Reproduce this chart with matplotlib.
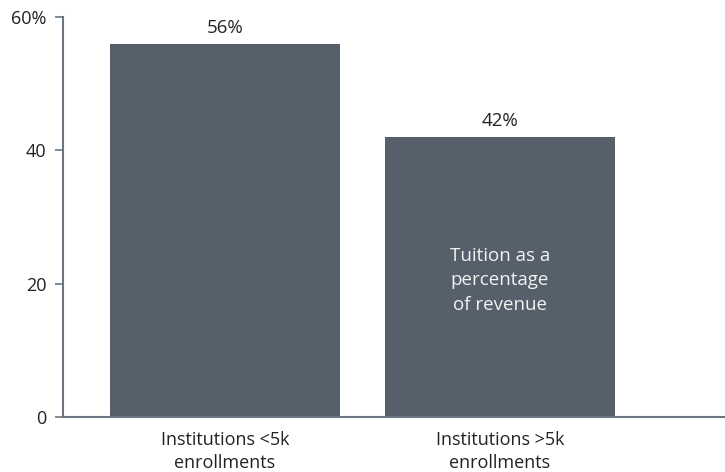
import matplotlib.pyplot as plt

categories = ["Institutions <5k\nenrollments", "Institutions >5k\nenrollments"]
values = [56, 42]
yticks = [0, 20, 40, 60]
ytick_labels = ["0", "20", "40", "60%"]

plt.rcParams["font.family"] = ["Open Sans", "DejaVu Sans"]

bar_color = "#56606a"
axis_color = "#6b7580"
text_color = "#222222"

fig = plt.figure(figsize=(7.25, 4.72), dpi=100)
ax = fig.add_axes([63/725, 55/472, 1 - 63/725, 400/472])

x = range(len(values))
ax.bar(x, values, width=0.836, color=bar_color)

for i, v in enumerate(values):
    ax.annotate(str(v) + "%", (i, v), xytext=(0, 5), textcoords="offset points",
                ha="center", va="bottom", fontsize=13.5, color=text_color)

ax.text(1, 20.5, "Tuition as a\npercentage\nof revenue", ha="center", va="center",
        fontsize=13.5, color="#f2f2f2", linespacing=1.45)

ax.set_xlim(-0.589, 1.818)
ax.set_ylim(0, 60)
ax.set_xticks(list(x))
ax.set_xticklabels(categories, fontsize=13, color=text_color, linespacing=1.4)
ax.set_yticks(yticks)
ax.set_yticklabels(ytick_labels, fontsize=13, color=text_color)
ax.tick_params(axis="x", length=0, pad=10)
ax.tick_params(axis="y", length=6, width=1.2, color=axis_color, pad=6)

for s in ["top", "right"]:
    ax.spines[s].set_visible(False)
for s in ["left", "bottom"]:
    ax.spines[s].set_color(axis_color)
    ax.spines[s].set_linewidth(1.5)

fig.savefig("out.png", dpi=100)
